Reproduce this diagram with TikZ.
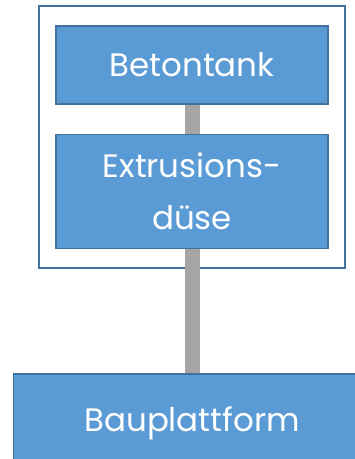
\documentclass[tikz,border=0pt]{standalone}
\usepackage{fontspec}
\setmainfont{Poppins}
\usetikzlibrary{positioning,fit}
\definecolor{boxblue}{HTML}{5B9BD5}
\definecolor{boxedge}{HTML}{41719C}
\definecolor{linkgray}{HTML}{A5A5A5}
\begin{document}
\begin{tikzpicture}
[x=1pt, y=1pt, node distance=29pt, font=\fontsize{32.5}{52}\selectfont]
\tikzstyle{unit}=[rectangle, draw=boxedge, line width=1.5pt, fill=boxblue, text=white, minimum width=272pt, align=center, inner sep=0pt]
\tikzstyle{link}=[draw=linkgray, line width=15pt]
\useasboundingbox (0,0) rectangle (355,-459);
\clip (0,0) rectangle (355,-459);
\node[unit, minimum height=78pt]	(tank)	at (192,-65)	{Betontank};
\node[unit, minimum height=114pt]	(duese)	[below=29pt of tank]	{Extrusions-\\düse};
\node[unit, minimum width=357pt, minimum height=99pt]	(platform)	[below=124pt of duese]	{Bauplattform};
\node[draw=boxedge, line width=2pt, inner xsep=16pt, inner ysep=19pt, fit=(tank)(duese)]	(frame)	{};

\draw [link] (tank)--(duese);
\draw [link] (duese)--(platform);
\end{tikzpicture}
\end{document}
